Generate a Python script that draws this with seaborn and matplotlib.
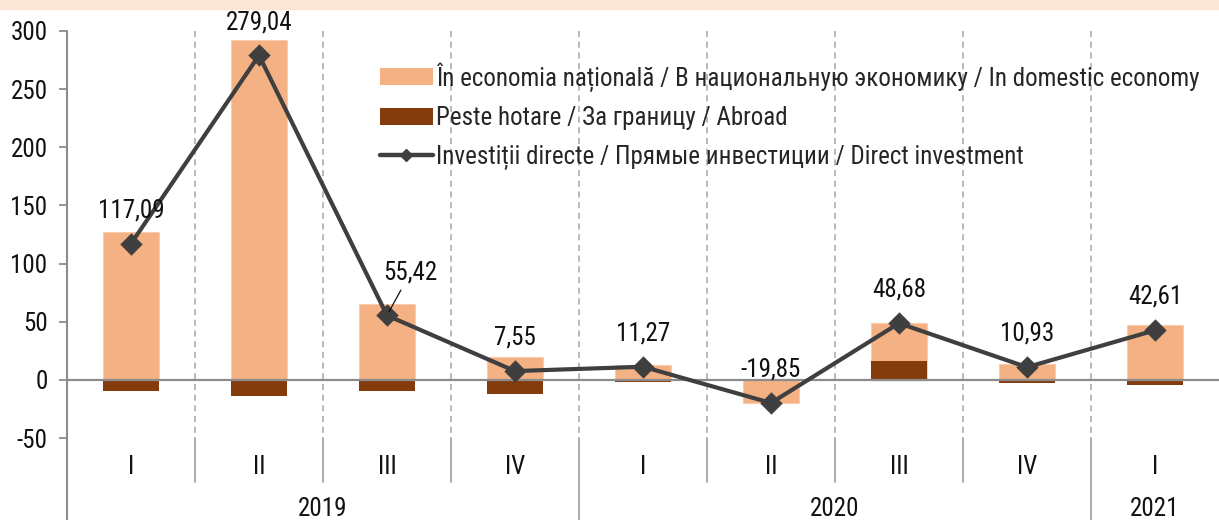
import numpy as np
import pandas as pd
import matplotlib
matplotlib.use("Agg")
import matplotlib.pyplot as plt
from matplotlib import font_manager
from matplotlib.patches import Patch, Rectangle
from matplotlib.lines import Line2D
import seaborn as sns

# ---- data ----
periods = ["2019-I", "2019-II", "2019-III", "2019-IV",
           "2020-I", "2020-II", "2020-III", "2020-IV", "2021-I"]
quarters = ["I", "II", "III", "IV", "I", "II", "III", "IV", "I"]
years = ["2019", "2020", "2021"]
year_span = [(0, 3), (4, 7), (8, 8)]
domestic = [127.0, 292.5, 65.4, 19.4, 12.8, -19.45, 32.5, 13.3, 47.3]
abroad = [-9.9, -13.5, -10.0, -11.85, -1.5, -0.4, 16.2, -2.4, -4.7]
total = [117.09, 279.04, 55.42, 7.55, 11.27, -19.85, 48.68, 10.93, 42.61]
labels = ["117,09", "279,04", "55,42", "7,55", "11,27", "-19,85", "48,68", "10,93", "42,61"]
legend_names = ["În economia națională / В национальную экономику / In domestic economy",
                "Peste hotare / За границу / Abroad",
                "Investiții directe / Прямые инвестиции / Direct investment"]

C_DOM = "#F4B183"
C_ABR = "#843C0C"
C_LINE = "#3F3F3F"
C_GRID = "#A6A6A6"
C_AX = "#8C8C8C"

sns.set_theme(style="white")
avail = {f.name for f in font_manager.fontManager.ttflist}
fam = None
for cand in ["Liberation Sans Narrow", "Roboto Condensed", "Open Sans Condensed", "Liberation Sans"]:
    if cand in avail:
        fam = cand
        break
plt.rcParams["font.family"] = [fam, "DejaVu Sans"] if fam else ["DejaVu Sans"]
FS = 18

fig = plt.figure(figsize=(12.19, 5.2), dpi=100)
W, H = 1219, 520
ax = fig.add_axes([67 / W, 1 - 438 / H, (W - 67) / W, (438 - 31) / H])

# top band
fig.patches.append(Rectangle((0, 1 - 8.5 / H), 1, 8.5 / H, transform=fig.transFigure,
                             color="#FBE5D6", zorder=0))

df = pd.DataFrame({"period": periods, "domestic": domestic, "abroad": abroad, "total": total})
# light bar drawn to stacked extent, dark (abroad) stacked first from zero on top of it
df["light"] = [d + (a if np.sign(a) == np.sign(d) else 0) for d, a in zip(domestic, abroad)]

sns.barplot(data=df, x="period", y="light", order=periods, color=C_DOM, width=0.445,
            saturation=1, edgecolor="#F8CBAD", linewidth=0.8, ax=ax, zorder=2)
sns.barplot(data=df, x="period", y="abroad", order=periods, color=C_ABR, width=0.445,
            saturation=1, linewidth=0, ax=ax, zorder=3)
sns.pointplot(data=df, x="period", y="total", order=periods, color=C_LINE, markers="D",
              markersize=9.5, linewidth=3.0, errorbar=None, ax=ax, zorder=5)

ax.set_xlim(-0.5, 8.5)
ax.set_ylim(-50, 300)
ax.set_yticks([-50, 0, 50, 100, 150, 200, 250, 300])
ax.set_yticklabels(["-50", "0", "50", "100", "150", "200", "250", "300"], fontsize=FS, color="#111111")
ax.set_xticks([])
ax.set_xlabel("")
ax.set_ylabel("")
for s in ["top", "right", "bottom", "left"]:
    ax.spines[s].set_visible(False)
ax.tick_params(axis="y", direction="out", length=6, width=1.3, color=C_AX, pad=8, left=True)
ax.grid(False)

# zero line
ax.axhline(0, color=C_AX, lw=1.6, zorder=4)

xt = ax.get_xaxis_transform()
# y axis line extended to bottom
ax.plot([-0.5, -0.5], [1, -82 / 407], transform=xt, color=C_AX, lw=1.5, clip_on=False, zorder=4)
# separators
for k in range(8):
    b = k + 0.5
    ax.plot([b, b], [1, 0], transform=xt, color=C_GRID, lw=1.1, ls=(0, (4, 3)), zorder=1)
    low = -82 / 407 if k in (3, 7) else -44 / 407
    ax.plot([b, b], [0, low], transform=xt, color=C_GRID, lw=1.3, clip_on=False, zorder=1)

# category labels
for i, q in enumerate(quarters):
    ax.annotate(q, xy=(i, 0), xycoords=xt, xytext=(0, -29 * 0.72), textcoords="offset points",
                ha="center", va="center", fontsize=FS, color="#111111", annotation_clip=False)
for y, (a, b) in zip(years, year_span):
    ax.annotate(y, xy=((a + b) / 2, 0), xycoords=xt, xytext=(0, -71 * 0.72), textcoords="offset points",
                ha="center", va="center", fontsize=FS, color="#111111", annotation_clip=False)

# data labels
for i, (v, lab) in enumerate(zip(total, labels)):
    if i == 2:
        ax.annotate(lab, xy=(i, v), xytext=(17, 31), textcoords="offset points",
                    ha="center", va="center", fontsize=FS, color="#111111",
                    arrowprops=dict(arrowstyle="-", color="#111111", lw=0.9, shrinkA=2, shrinkB=3),
                    zorder=6)
    else:
        ax.annotate(lab, xy=(i, v), xytext=(0, 24), textcoords="offset points",
                    ha="center", va="center", fontsize=FS, color="#111111",
                    annotation_clip=False, zorder=6)

handles = [Patch(facecolor=C_DOM, edgecolor="none"),
           Patch(facecolor=C_ABR, edgecolor="none"),
           Line2D([0], [0], color=C_LINE, lw=3.2, marker="D", markersize=6)]
leg = fig.legend(handles, legend_names, loc="upper left", bbox_to_anchor=(370 / W, 1 - 52 / H),
                 frameon=False, fontsize=FS, handlelength=2.1, handleheight=0.65,
                 handletextpad=0.15, labelspacing=0.58, borderaxespad=0)

fig.savefig("out.png", dpi=100)
